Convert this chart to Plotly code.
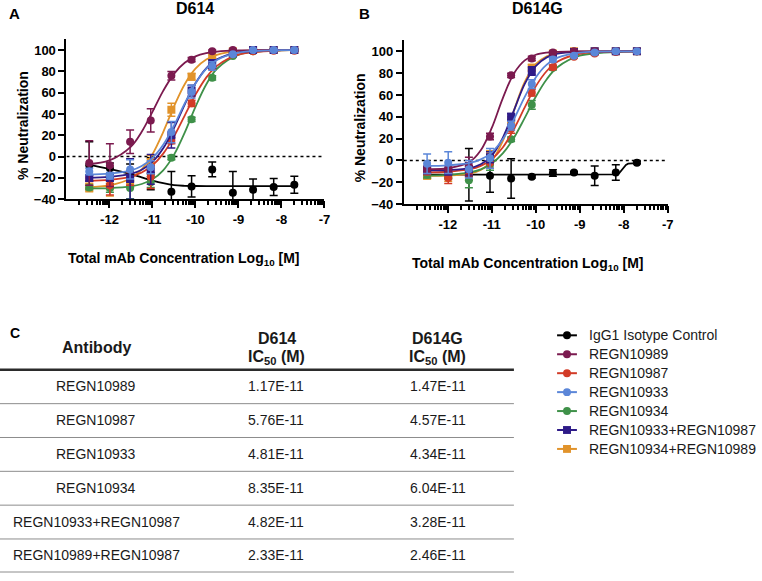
import math

import plotly.graph_objects as go

# --- données --------------------------------------------------------------
SERIES = ["IgG1 Isotype Control", "REGN10989", "REGN10987", "REGN10933",
          "REGN10934", "REGN10933+REGN10987", "REGN10934+REGN10989"]
COLORS = ["#000000", "#7B1A4F", "#D23B27", "#5B86D8", "#3F9149", "#2E1B88", "#E1932B"]
SYMBOLS = ["circle", "circle", "circle", "circle", "circle", "square", "square"]

# concentrations (log10 M), dilution 1:3
LOG_CONC = [-12.47, -11.99, -11.52, -11.04, -10.56, -10.09, -9.61, -9.13, -8.66, -8.18, -7.70]
# abscisses où la courbe ajustée a été relevée
CURVE_X = [-12.5, -12.0, -11.5, -11.25, -11.0, -10.75, -10.5, -10.25, -10.0, -9.75, -9.5, -9.0, -8.0, -7.7]

# panneau A : D614 (moyenne, erreur, courbe) dans l'ordre de SERIES
D614_MEAN = [
    [-8, -11, -15, -16, -33, -28, -12, -34, -31, -28.5, -26.5],
    [-6, -8, 14, 34, 76, 91, 99, 100, 100, 100, 100],
    [-20, -27, -21, -19, 15, 50, 84, 96, 99, 99.5, 99.5],
    [-14, -18, -12, -10, 23, 61, 85, 96, 100, 100, 100],
    [-29, -29.5, -29.5, -24, -1, 35, 74, 94.5, 99, 100, 100],
    [-20, -20, -21, -12, 20, 62, 87, 97, 100, 100, 100],
    [-29, -28, -26, -5, 44, 75, 93.5, 99, 100, 100, 100],
]
D614_ERR = [
    [22, 5, 8, 15, 19, 10, 7, 20, 10, 8, 8],
    [21, 20, 11, 11, 4, 2, 1, 1, 0.5, 0.5, 0.5],
    [3, 9, 6, 11, 3, 3, 2, 1, 1, 1, 1],
    [3, 3, 9, 6, 10, 6, 4, 1, 1, 1, 1],
    [2, 4, 10, 5, 2, 2, 2, 1, 1, 1, 1],
    [3, 3, 19, 14, 12, 5, 4, 1, 1, 1, 1],
    [4, 9, 3, 6, 6, 3, 2, 1, 1, 1, 1],
]
D614_CURVE = [
    [-7.5, -11.5, -16.5, -19.5, -22.5, -25, -26.8, -27.4, -27.6, -27.7, -27.7, -27.7, -27.7, -27.7],
    [-7.0, -3.5, 9.4, 23.3, 42, 61.7, 77.7, 88.2, 94.1, 97.1, 98.6, 99.7, 100, 100],
    [-22.7, -21.8, -18.7, -14.9, -8.2, 2.8, 18.8, 38.5, 58.1, 74.2, 85.2, 95.7, 99.7, 99.9],
    [-16.8, -16, -12.9, -8.8, -1.3, 11.1, 29, 49.9, 68.7, 82.3, 90.7, 97.6, 99.9, 100],
    [-29.9, -29.5, -27.9, -25.7, -21.3, -12.9, 1.6, 22.5, 46.6, 67.7, 82.5, 95.6, 99.8, 100],
    [-19.8, -19.1, -16.3, -12.4, -5, 7.8, 26.7, 48.9, 68.8, 82.9, 91.3, 97.9, 100, 100],
    [-28.5, -27, -20.3, -12, 2.3, 23.1, 47, 68, 82.6, 91.1, 95.6, 99, 100, 100],
]

# panneau B : D614G
D614G_MEAN = [
    [-13, -13, -13, -14, -16.5, -15, -11.5, -11, -14, -11, -2],
    [-8, -8, -5, 22, 78, 93.5, 99, 100, 100, 100, 100],
    [-10, -16, -10, -2, 29, 62, 85.5, 95, 98, 99.5, 100],
    [-3, -2, -8, 2, 32, 70, 92.5, 96, 99, 100, 100],
    [-13, -14, -18, -4, 19.5, 51, 85, 96, 99, 100, 100],
    [-9, -10, -8, 3, 40, 82, 97, 99.5, 100, 100, 100],
    [-14, -14, -12, 4, 37, 85, 98, 100, 100, 100, 100],
]
D614G_ERR = [
    [3, 3, 24, 15, 18, 1, 3, 1, 9, 7, 1],
    [3, 3, 8, 3, 2, 2, 1, 1, 1, 1, 1],
    [3, 5, 5, 5, 4, 3, 2, 1, 1, 1, 1],
    [9, 10, 8, 9, 4, 4, 2, 1, 1, 1, 1],
    [3, 3, 7, 5, 2, 4, 2, 1, 1, 1, 1],
    [3, 3, 6, 5, 3, 4, 1, 1, 1, 1, 1],
    [3, 5, 6, 5, 3, 3, 1, 1, 1, 1, 1],
]
D614G_CURVE = [
    None,  # témoin : courbe relevée à part (saut vers -8)
    [-7.9, -7.1, -1.2, 9.3, 29.8, 57, 79.5, 91.7, 96.9, 98.9, 99.6, 100, 100, 100],
    [-10.8, -10.3, -8, -4.9, 1.2, 11.9, 28.4, 48.6, 67.9, 82, 90.7, 97.8, 99.9, 100],
    [-4.9, -4.4, -2.2, 1.0, 7.5, 19.4, 37.5, 58.3, 76.1, 87.8, 94.2, 98.8, 100, 100],
    [-13.8, -13.2, -10.9, -8.1, -2.7, 6.5, 20.6, 39.1, 58.4, 74.5, 85.6, 96, 99.7, 99.9],
    [-9, -8.7, -6.9, -3.5, 4.5, 20.8, 45.5, 70.2, 86.5, 94.5, 97.9, 99.7, 100, 100],
    [-14, -13.8, -12.1, -8.7, -0.3, 17.7, 45.4, 71.9, 88.2, 95.5, 98.4, 99.8, 100, 100],
]
D614G_IGG1_CURVE_X = [-12.5, -11.0, -9.5, -8.4, -8.2, -8.1, -8.05, -8.0, -7.95, -7.9, -7.8, -7.7]
D614G_IGG1_CURVE_Y = [-13, -13, -13, -13, -12.8, -11.5, -9.2, -6.3, -4, -2.9, -2.5, -2.4]

# tableau C
TABLE_ANTIBODY = ["REGN10989", "REGN10987", "REGN10933", "REGN10934",
                  "REGN10933+REGN10987", "REGN10989+REGN10987"]
TABLE_IC50_D614 = ["1.17E-11", "5.76E-11", "4.81E-11", "8.35E-11", "4.82E-11", "2.33E-11"]
TABLE_IC50_D614G = ["1.47E-11", "4.57E-11", "4.34E-11", "6.04E-11", "3.28E-11", "2.46E-11"]

# --- mise en page -----------------------------------------------------------
W, H = 762, 581
FONT = "Liberation Sans, Arial, Helvetica, sans-serif"
TXT = "#1a1a1a"
DRAW_ORDER = [0, 6, 4, 2, 5, 1, 3]   # ordre d'empilement des séries


def px(x):
    return x / W


def py(y):
    return 1 - y / H


fig = go.Figure()


def add_panel(xa, ya, means, errs, curves, black_curve=None):
    for i in DRAW_ORDER:
        c = COLORS[i]
        if i == 0 and black_curve is not None:
            cx, cy, shape = black_curve[0], black_curve[1], "linear"
        else:
            cx, cy, shape = CURVE_X, curves[i], "spline"
        fig.add_trace(go.Scatter(
            x=cx, y=cy, mode="lines", line=dict(color=c, width=1.8, shape=shape),
            xaxis=xa, yaxis=ya, showlegend=False, hoverinfo="skip"))
        fig.add_trace(go.Scatter(
            x=LOG_CONC, y=means[i], mode="markers",
            marker=dict(color=c, size=8, symbol=SYMBOLS[i], line=dict(width=0)),
            error_y=dict(type="data", array=errs[i], color=c, thickness=1.5, width=4),
            xaxis=xa, yaxis=ya, showlegend=False, name=SERIES[i]))


add_panel("x", "y", D614_MEAN, D614_ERR, D614_CURVE)
add_panel("x2", "y2", D614G_MEAN, D614G_ERR, D614G_CURVE,
          black_curve=(D614G_IGG1_CURVE_X, D614G_IGG1_CURVE_Y))

minor_vals = [d + math.log10(k) for d in range(-13, -7) for k in range(2, 10)]
xaxis_style = dict(
    range=[-13, -7], tickvals=[-12, -11, -10, -9, -8, -7],
    ticktext=["-12", "-11", "-10", "-9", "-8", "-7"],
    showline=True, linecolor="black", linewidth=2, showgrid=False, zeroline=False,
    ticks="outside", ticklen=7, tickwidth=2, tickcolor="black",
    tickfont=dict(family=FONT, size=13, color="black", weight="bold"),
    minor=dict(tickmode="array", tickvals=minor_vals, ticks="outside",
               ticklen=4, tickwidth=1.5, tickcolor="black"),
)
yaxis_style = dict(
    range=[-40, 110], tickvals=[-40, -20, 0, 20, 40, 60, 80, 100],
    showline=True, linecolor="black", linewidth=2, showgrid=False, zeroline=False,
    ticks="outside", ticklen=6, tickwidth=2, tickcolor="black",
    tickfont=dict(family=FONT, size=13, color="black", weight="bold"),
)

fig.update_layout(
    width=W, height=H, margin=dict(l=0, r=0, t=0, b=0),
    paper_bgcolor="white", plot_bgcolor="white",
    font=dict(family=FONT, color="black"), showlegend=False,
    xaxis=dict(domain=[px(67), px(327)], anchor="y", **xaxis_style),
    yaxis=dict(domain=[py(202), py(40)], anchor="x", **yaxis_style),
    xaxis2=dict(domain=[px(407), px(673)], anchor="y2", **xaxis_style),
    yaxis2=dict(domain=[py(207), py(41)], anchor="x2", **yaxis_style),
)

# lignes pointillées à 0 %
for xr, yr in (("x", "y"), ("x2", "y2")):
    fig.add_shape(type="line", xref=xr, yref=yr, x0=-13, x1=-7, y0=0, y1=0,
                  line=dict(color="black", width=1.5, dash="dot"), layer="below")

annotations = []


def text(x, y, s, size, bold=False, angle=0, color="black", xanchor="center"):
    annotations.append(dict(
        x=px(x), y=py(y), xref="paper", yref="paper", text=s, showarrow=False,
        xanchor=xanchor, yanchor="middle", textangle=angle,
        font=dict(family=FONT, size=size, color=color, weight="bold" if bold else "normal")))


# titres et étiquettes des graphiques
text(15, 14, "A", 15, bold=True)
text(197, 9, "D614", 16, bold=True)
text(367, 14, "B", 15, bold=True)
text(542, 9, "D614G", 16, bold=True)
text(23, 127, "% Neutralization", 14, bold=True, angle=-90)
text(363, 130, "% Neutralization", 14, bold=True, angle=-90)
text(185, 263, "Total mAb Concentration Log<sub>10</sub> [M]", 14, bold=True)
text(532, 268, "Total mAb Concentration Log<sub>10</sub> [M]", 14, bold=True)

# légende commune (segment + symbole + texte)
LEG_Y0, LEG_DY = 340, 19.2
for i, name in enumerate(SERIES):
    yc = LEG_Y0 + i * LEG_DY
    fig.add_shape(type="line", xref="paper", yref="paper", x0=px(561.5), x1=px(581.5),
                  y0=py(yc), y1=py(yc), line=dict(color=COLORS[i], width=2))
    fig.add_shape(type="circle" if SYMBOLS[i] == "circle" else "rect",
                  xref="paper", yref="paper", x0=px(567.5), x1=px(575.5),
                  y0=py(yc + 4), y1=py(yc - 4), fillcolor=COLORS[i], line=dict(width=0))
    text(591.5, yc, name, 14, color=TXT, xanchor="left")

# tableau C
text(15, 338, "C", 14, bold=True)
text(97, 352, "Antibody", 16, bold=True, color=TXT)
text(279, 343, "D614", 16, bold=True, color=TXT)
text(279, 362, "IC<sub>50</sub> (M)", 16, bold=True, color=TXT)
text(441, 343, "D614G", 16, bold=True, color=TXT)
text(441, 362, "IC<sub>50</sub> (M)", 16, bold=True, color=TXT)

fig.add_shape(type="line", xref="paper", yref="paper", x0=0, x1=px(518),
              y0=py(375), y1=py(375), line=dict(color="#2b2b2b", width=2.5))
ROW_H = 34.3
for r, name in enumerate(TABLE_ANTIBODY):
    yc = 391.7 + r * ROW_H
    text(97, yc, name, 14, color=TXT)
    text(278, yc, TABLE_IC50_D614[r], 14, color=TXT)
    text(441, yc, TABLE_IC50_D614G[r], 14, color=TXT)
    yl = min(409.3 + r * ROW_H, 580)
    fig.add_shape(type="line", xref="paper", yref="paper", x0=0, x1=px(518),
                  y0=py(yl), y1=py(yl), line=dict(color="#8c8c8c", width=1))

fig.update_layout(annotations=annotations)
# la page par défaut décale la figure de 8 px (marge du body)
fig.write_html("out.html", config={"displayModeBar": False},
               post_script="document.body.style.margin='0';")
